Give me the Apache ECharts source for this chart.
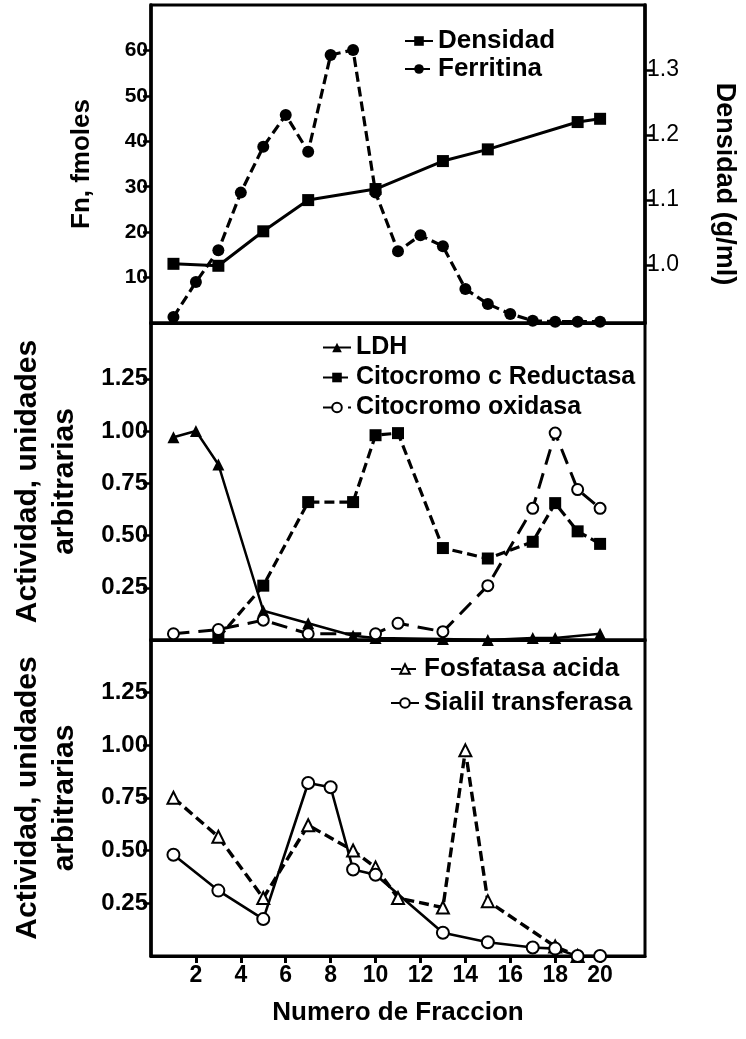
<!DOCTYPE html>
<html><head><meta charset="utf-8">
<script src="https://cdn.jsdelivr.net/npm/echarts@6/dist/echarts.min.js"></script>
<style>html,body{margin:0;padding:0;background:#fff}#c{width:746px;height:1039px}</style>
</head><body><div id="c"></div>
<script>
// ---- data ----
const xTicks = [2,4,6,8,10,12,14,16,18,20];
const fnTicks = [10,20,30,40,50,60];
const densTicks = [1.0,1.1,1.2,1.3];
const actTicks = [0.25,0.5,0.75,1.0,1.25];

const densidadX = [1,3,5,7,10,13,15,19,20];
const densidadY = [1.002,0.999,1.052,1.100,1.117,1.160,1.178,1.220,1.225];
const ferritinaX = [1,2,3,4,5,6,7,8,9,10,11,12,13,14,15,16,17,18,19,20];
const ferritinaY = [1.3,9.0,16.0,28.7,38.8,45.8,37.7,59.0,60.1,28.7,15.8,19.3,16.9,7.5,4.2,2.0,0.5,0.3,0.3,0.3];

const ldhX = [1,2,3,5,7,9,10,13,15,17,18,20];
const ldhY = [0.97,1.0,0.84,0.14,0.08,0.02,0.01,0.005,0.0,0.01,0.01,0.03];
const reductasaX = [3,5,7,9,10,11,13,15,17,18,19,20];
const reductasaY = [0.01,0.26,0.66,0.66,0.98,0.99,0.44,0.39,0.47,0.655,0.52,0.46];
const oxidasaX = [1,3,5,7,10,11,13,15,17,18,19,20];
const oxidasaY = [0.03,0.05,0.095,0.03,0.03,0.08,0.04,0.26,0.63,0.99,0.72,0.63];

const fosfatasaX = [1,3,5,7,9,10,11,13,14,15,18,19];
const fosfatasaY = [0.75,0.565,0.275,0.62,0.50,0.42,0.275,0.23,0.975,0.26,0.045,0.0];
const sialilX = [1,3,5,7,8,9,10,13,15,17,18,19,20];
const sialilY = [0.48,0.31,0.175,0.82,0.80,0.41,0.385,0.11,0.065,0.04,0.035,0.0,0.0];

const zip = (xs, ys) => xs.map((x, i) => [x, ys[i]]);

// ---- style ----
const FONT = '"Liberation Sans", Arial, Helvetica, sans-serif';
const BLACK = '#000';
const gridL = 151, gridR = 101;
const grids = [
  {left: gridL, right: gridR, top: 5, height: 318},
  {left: gridL, right: gridR, top: 323, height: 317},
  {left: gridL, right: gridR, top: 640, height: 316}
].map(g => Object.assign(g, {show: true, borderColor: BLACK, borderWidth: 3, backgroundColor: 'transparent', containLabel: false, outerBoundsMode: 'none'}));

function xAxis(gi, bottom) {
  return {
    type: 'value', gridIndex: gi, min: 0, max: 22,
    axisLine: {show: true, onZero: false, lineStyle: {color: BLACK, width: 3}},
    axisTick: {show: bottom, customValues: xTicks, length: 7, lineStyle: {color: BLACK, width: 3}},
    axisLabel: {show: bottom, customValues: xTicks, color: BLACK, fontFamily: FONT, fontWeight: 'bold', fontSize: 23, margin: 8},
    splitLine: {show: false},
    name: bottom ? 'Numero de Fraccion' : '', nameLocation: 'middle', nameGap: 44,
    nameTextStyle: {color: BLACK, fontFamily: FONT, fontWeight: 'bold', fontSize: 26}
  };
}
function yAxis(gi, min, max, ticks, fmt, name, opts) {
  return Object.assign({
    type: 'value', gridIndex: gi, min: min, max: max, position: 'left',
    axisLine: {show: true, onZero: false, lineStyle: {color: BLACK, width: 3.5}},
    axisTick: {show: true, customValues: ticks, length: 8, lineStyle: {color: BLACK, width: 2.5}},
    axisLabel: {customValues: ticks, formatter: fmt, color: BLACK, fontFamily: FONT, fontWeight: 'bold', fontSize: 24, margin: 3},
    splitLine: {show: false},
    name: name, nameLocation: 'middle', nameGap: 68,
    nameTextStyle: {color: BLACK, fontFamily: FONT, fontWeight: 'bold', fontSize: 30, lineHeight: 37, align: 'center'}
  }, opts || {});
}

const actFmt = v => v.toFixed(2);

function line(name, xi, yi, xs, ys, symbol, size, dash, width) {
  return {
    name: name, type: 'line', xAxisIndex: xi, yAxisIndex: yi,
    data: zip(xs, ys), symbol: symbol, symbolSize: size,
    showSymbol: true, animation: false, z: 3,
    lineStyle: {color: BLACK, width: width || 2.8, type: dash || 'solid'},
    itemStyle: {color: BLACK, borderColor: BLACK, borderWidth: symbol.indexOf('empty') === 0 ? 2 : 0}
  };
}

const legendText = {color: BLACK, fontFamily: FONT, fontWeight: 'bold', fontSize: 26};
const legendTextM = {color: BLACK, fontFamily: FONT, fontWeight: 'bold', fontSize: 25};

const option = {
  backgroundColor: '#fff',
  animation: false,
  grid: grids,
  xAxis: [xAxis(0, false), xAxis(1, false), xAxis(2, true)],
  yAxis: [
    yAxis(0, 0, 70, fnTicks, v => String(v), 'Fn, fmoles',
      {axisLabel: {customValues: fnTicks, color: BLACK, fontFamily: FONT, fontWeight: 'bold', fontSize: 21, margin: 3},
       nameGap: 56, nameTextStyle: {color: BLACK, fontFamily: FONT, fontWeight: 'bold', fontSize: 26}}),
    yAxis(0, 0.911, 1.4, densTicks, v => v.toFixed(1), 'Densidad (g/ml)',
      {position: 'right', nameRotate: -90, nameGap: 66,
       axisLabel: {customValues: densTicks, formatter: v => v.toFixed(1), color: BLACK, fontFamily: FONT, fontSize: 23, margin: 2},
       nameTextStyle: {color: BLACK, fontFamily: FONT, fontWeight: 'bold', fontSize: 27, padding: [0, 0, 0, 40]}}),
    yAxis(1, 0, 1.517, actTicks, actFmt, 'Actividad, unidades\narbitrarias'),
    yAxis(2, 0, 1.498, actTicks, actFmt, 'Actividad, unidades\narbitrarias')
  ],
  legend: [
    {data: ['Densidad', 'Ferritina'], orient: 'vertical', left: 404, top: 28, itemWidth: 28, itemHeight: 12, itemGap: 2, textStyle: legendText, padding: 0},
    {data: ['LDH', 'Citocromo c Reductasa', 'Citocromo oxidasa'], orient: 'vertical', left: 322, top: 335, itemWidth: 28, itemHeight: 12, itemGap: 5, textStyle: legendTextM, padding: 0},
    {data: ['Fosfatasa acida', 'Sialil transferasa'], orient: 'vertical', left: 390, top: 656, itemWidth: 28, itemHeight: 12, itemGap: 8, textStyle: legendText, padding: 0}
  ],
  series: [
    line('Densidad', 0, 1, densidadX, densidadY, 'rect', 12, 'solid', 3),
    line('Ferritina', 0, 0, ferritinaX, ferritinaY, 'circle', 12, [10, 5], 3.2),
    line('LDH', 1, 2, ldhX, ldhY, 'triangle', 12, 'solid', 2.5),
    line('Citocromo c Reductasa', 1, 2, reductasaX, reductasaY, 'rect', 12, [10, 5], 3.2),
    line('Citocromo oxidasa', 1, 2, oxidasaX, oxidasaY, 'emptyCircle', 11, [16, 9], 3),
    line('Fosfatasa acida', 2, 3, fosfatasaX, fosfatasaY, 'emptyTriangle', 12, [10, 5], 3.4),
    line('Sialil transferasa', 2, 3, sialilX, sialilY, 'emptyCircle', 12, 'solid', 2.6)
  ]
};

const chart = echarts.init(document.getElementById('c'), null, {renderer: 'canvas'});
chart.setOption(option);
</script>
</body></html>
